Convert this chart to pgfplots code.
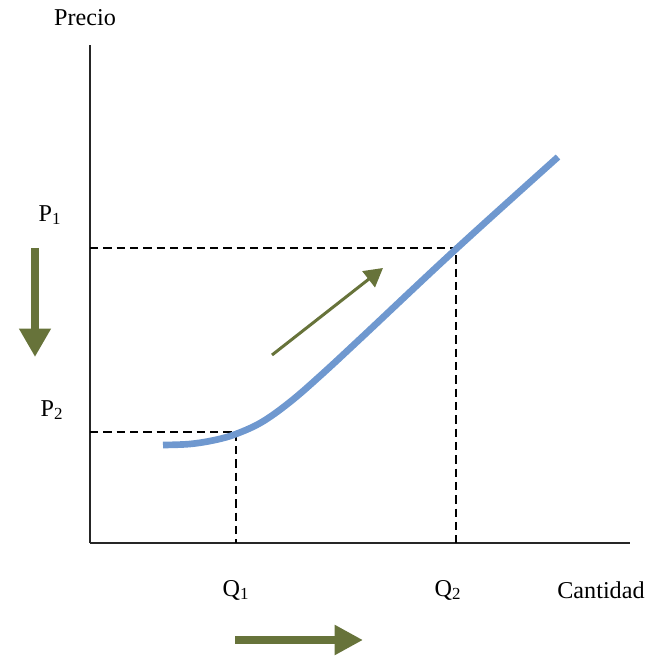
\documentclass[border=0pt]{standalone}
\usepackage{pgfplots}
\pgfplotsset{compat=1.18}
\usetikzlibrary{arrows.meta}
\usepackage{fontspec}
\setmainfont{Liberation Serif}
\definecolor{curveblue}{HTML}{6F98CF}
\definecolor{olive}{HTML}{67733A}

\begin{document}
\begin{tikzpicture}[every node/.style={font=\fontsize{14.5}{17}\selectfont}]
\begin{axis}[
    x=0.6pt, y=0.6pt,
    xmin=0, xmax=540,
    ymin=0, ymax=498,
    axis lines=left,
    axis line style={-, line width=1.2pt, black!85},
    xtick=\empty, ytick=\empty,
    clip=false,
]
% frame of the whole picture
\path[use as bounding box] (axis cs:-90,-115) rectangle (axis cs:562,543);

% guide lines
\addplot[black, line width=0.9pt, dash pattern=on 5pt off 3pt] coordinates {(0,295) (366,295) (366,0)};
\addplot[black, line width=0.9pt, dash pattern=on 5pt off 3pt] coordinates {(0,111) (146,111) (146,0)};

% supply curve
\addplot[curveblue, line width=4pt, smooth, tension=0.6] coordinates {
    (73,98) (100,99) (125,103) (146,109) (172,121) (200,141) (230,167) (270,204) (365,293) (468,386)
};

% arrows
\addplot[olive, line width=4.8pt, -{Triangle[width=18pt,length=17pt]}] coordinates {(-55,295) (-55,186)};
\addplot[olive, line width=4.8pt, -{Triangle[width=17pt,length=17pt]}] coordinates {(145,-97) (273,-97)};
\addplot[olive, line width=1.8pt, -{Triangle[width=12pt,length=11pt]}] coordinates {(182,188) (293,275)};

% labels
\node at (axis cs:-5,525) {Precio};
\node at (axis cs:-40,328) {P\textsubscript{1}};
\node at (axis cs:-38,133) {P\textsubscript{2}};
\node at (axis cs:146,-47) {Q\textsubscript{1}};
\node at (axis cs:358,-47) {Q\textsubscript{2}};
\node at (axis cs:511,-47) {Cantidad};
\end{axis}
\end{tikzpicture}
\end{document}
